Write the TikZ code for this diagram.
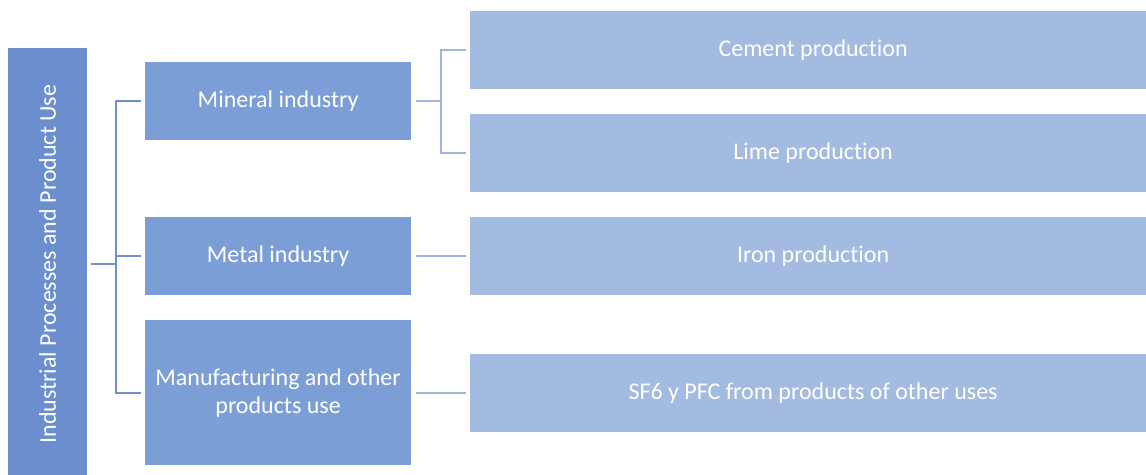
\documentclass[tikz,border=0pt]{standalone}
\usepackage{fontspec}
\setmainfont{Carlito}[Ligatures={NoCommon}]
\definecolor{rootfill}{RGB}{106,142,206}
\definecolor{midfill}{RGB}{124,158,214}
\definecolor{leaffill}{RGB}{163,186,225}
\definecolor{rootline}{RGB}{112,143,207}
\definecolor{leafline}{RGB}{160,180,222}
\begin{document}
\begin{tikzpicture}[x=1pt,y=-1pt,
  box/.style={draw=white, line width=1.2pt, anchor=north west, inner sep=2pt,
    text=white, font=\fontsize{24}{28}\selectfont, align=center},
  rootbox/.style={box, fill=rootfill},
  midbox/.style={box, fill=midfill},
  leafbox/.style={box, fill=leaffill},
  rootconn/.style={draw=rootline, line width=2pt, shorten <=3pt, shorten >=3pt},
  leafconn/.style={draw=leafline, line width=2pt, shorten <=4pt, shorten >=3pt}]
\useasboundingbox[fill=white] (0,0) rectangle (1146,474);

% first level
\node[rootbox, minimum width=80pt, minimum height=433pt] (root) at (7,47)
  {\rotatebox{90}{Industrial Processes and Product Use}};

% second level
\node[midbox, minimum width=267pt, minimum height=79pt] (mineral) at (144,61) {Mineral industry};
\node[midbox, minimum width=267pt, minimum height=79pt] (metal) at (144,216) {Metal industry};
\node[midbox, minimum width=267pt, minimum height=146pt] (manuf) at (144,319)
  {Manufacturing and other\\products use};

% third level
\node[leafbox, minimum width=687pt, minimum height=79pt] (cement) at (469,10) {Cement production};
\node[leafbox, minimum width=687pt, minimum height=79pt] (lime) at (469,113) {Lime production};
\node[leafbox, minimum width=687pt, minimum height=79pt] (iron) at (469,216) {Iron production};
\node[leafbox, minimum width=687pt, minimum height=79pt] (sf6) at (469,353) {SF6 y PFC from products of other uses};

% connectors
\coordinate (rj) at ([xshift=28pt]root.east);
\draw[rootconn, shorten >=0pt] (root.east) -- (rj);
\draw[rootconn, shorten <=0pt] (rj) |- (mineral.west);
\draw[rootconn, shorten <=0pt] (rj) |- (metal.west);
\draw[rootconn, shorten <=0pt] (rj) |- (manuf.west);

\coordinate (mj) at ([xshift=29pt]mineral.east);
\draw[leafconn, shorten >=0pt] (mineral.east) -- (mj);
\draw[leafconn, shorten <=0pt] (mj) |- (cement.west);
\draw[leafconn, shorten <=0pt] (mj) |- (lime.west);
\draw[leafconn] (metal.east) -- (iron.west);
\draw[leafconn] (manuf.east) -- (manuf.east -| sf6.west);
\end{tikzpicture}
\end{document}
